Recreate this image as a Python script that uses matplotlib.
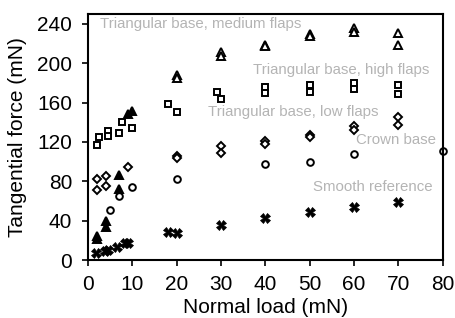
import matplotlib
matplotlib.use('Agg')
import matplotlib.pyplot as plt

plt.rcParams['font.family'] = ['Liberation Sans', 'DejaVu Sans']

# Smooth reference (crosses)
x_smooth = [1.8, 3.8, 4.6, 6.5, 8.3, 9.1, 18, 20, 30, 40, 50, 60, 70]
y_smooth = [7, 9, 10, 13, 17, 17, 28.5, 27.5, 36, 43, 49, 54, 59]

# Crown base (circles)
x_crown = [5, 7, 10, 20, 40, 50, 60, 80]
y_crown = [51, 65, 74, 82, 98, 100, 108, 111]

# Triangular base, low flaps (diamonds)
x_low = [2, 2, 4, 4, 9, 20, 20, 30, 30, 40, 40, 50, 50, 60, 60, 70, 70]
y_low = [82, 71, 85, 75, 95, 106, 104, 116, 109, 121, 118, 127, 125, 136, 132, 145, 137]

# Triangular base, medium flaps (filled triangles at low loads, open above)
x_med_filled = [2, 2, 4, 4, 7, 7, 9, 10]
y_med_filled = [25, 21, 40, 34, 86, 72, 148, 151]
x_med_open = [20, 20, 30, 30, 40, 40, 50, 50, 60, 60, 70, 70]
y_med_open = [188, 185, 211, 207, 219, 217, 230, 228, 236, 232, 231, 219]

# Triangular base, high flaps (squares)
x_high = [2, 2.5, 4.4, 4.6, 7, 7.6, 10, 18, 20, 29, 30, 40, 40, 50, 50, 60, 60, 70, 70]
y_high = [117, 125, 131, 126, 129, 140, 134, 159, 150, 171, 164, 176, 170, 178, 171, 180, 174, 178, 169]

labels = ['Triangular base, medium flaps', 'Triangular base, high flaps',
          'Triangular base, low flaps', 'Crown base', 'Smooth reference']
label_x = [2.7, 37.2, 27, 60.4, 50.7]
label_y = [240, 193, 150, 122.5, 74]

fig = plt.figure(figsize=(4.56, 3.18), dpi=100)
ax = fig.add_axes([0.193, 0.182, 0.778, 0.774])

mk = dict(linestyle='none', markeredgecolor='black', markeredgewidth=1.4, clip_on=False)
ax.plot(x_smooth, y_smooth, marker='X', markersize=6.5, color='black', markeredgewidth=0.5,
        linestyle='none', markeredgecolor='black')
ax.plot(x_crown, y_crown, marker='o', markersize=4.8, markerfacecolor='white', **mk)
ax.plot(x_low, y_low, marker='D', markersize=4.4, markerfacecolor='white', **mk)
ax.plot(x_high, y_high, marker='s', markersize=4.8, markerfacecolor='white', **mk)
ax.plot(x_med_open, y_med_open, marker='^', markersize=5.8, markerfacecolor='white', **mk)
ax.plot(x_med_filled, y_med_filled, marker='^', markersize=6.3, markerfacecolor='black', **mk)

for t, lx, ly in zip(labels, label_x, label_y):
    ax.text(lx, ly, t, color='#b4b4b4', fontsize=10.8, va='center', ha='left')

ax.set_xlim(0, 80)
ax.set_ylim(0, 250)
ax.set_xticks(range(0, 81, 10))
ax.set_yticks(range(0, 241, 40))
ax.tick_params(direction='out', length=4.5, width=1.2, labelsize=15)
ax.tick_params(axis='y', pad=7)
ax.tick_params(axis='x', pad=6)
for s in ax.spines.values():
    s.set_linewidth(1.5)
ax.set_xlabel('Normal load (mN)', fontsize=15, labelpad=3)
ax.set_ylabel('Tangential force (mN)', fontsize=15, labelpad=7)

fig.savefig('out.png', dpi=100)
